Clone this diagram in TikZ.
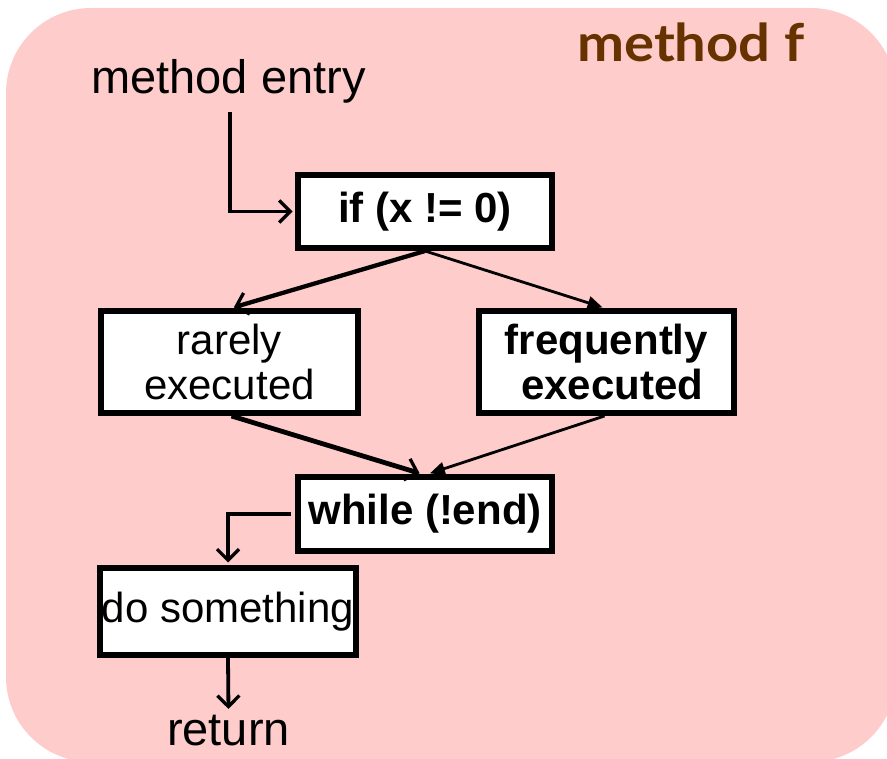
\documentclass[tikz,border=0pt]{standalone}
\usepackage{fontspec}
\setmainfont{Liberation Sans}
\newfontfamily\titlefont{Lato}
\usetikzlibrary{arrows.meta}
\definecolor{bgpink}{HTML}{FFCCCC}
\definecolor{titlebrown}{HTML}{663300}
\begin{document}
\begin{tikzpicture}[x=1pt,y=-1pt,
  blk/.style={draw=black,line width=6pt,fill=white,inner sep=0pt,align=center,
    font=\fontsize{42}{45}\selectfont},
  lbl/.style={inner sep=0pt,font=\fontsize{47}{50}\selectfont},
  openarr/.style={draw=black,line width=3.3pt,
    -{Straight Barb[length=11pt,width=22pt,line width=3.3pt]},shorten >=2.5pt},
  thickopen/.style={openarr,line width=4.3pt},
  filledarr/.style={draw=black,line width=2.8pt,
    -{Triangle[length=15pt,width=13pt]},shorten >=2pt}]
\useasboundingbox (0,0) rectangle (887,759);
\clip (0,0) rectangle (887,759);
\fill[bgpink,rounded corners=85pt] (6,8) rectangle (896,762);
\node[anchor=base west,inner sep=0pt,text=titlebrown,font=\titlefont\bfseries\fontsize{52}{54}\selectfont] (title) at (577,62) {\scalebox{1.08}[1]{method f}};
\node[lbl,anchor=base] (entry) at (228.5,94) {method entry};
\node[blk,minimum width=254pt,minimum height=73pt,font=\bfseries\fontsize{42}{45}\selectfont] (ifb) at (425,211.5) {if (x != 0)};
\node[blk,minimum width=257pt,minimum height=102pt] (rare) at (229.5,362) {rarely\\executed};
\node[blk,minimum width=255pt,minimum height=102pt,font=\bfseries\fontsize{42}{45}\selectfont] (freq) at (606.5,362) {frequently\\\ executed};
\node[blk,minimum width=254pt,minimum height=74pt,font=\bfseries\fontsize{42}{45}\selectfont] (wh) at (425,514) {while (!end)};
\node[blk,minimum width=256pt,minimum height=87pt] (dos) at (228,611.5) {do something};
\node[lbl,anchor=base] (ret) at (228.5,745) {return};
\draw[openarr] ([xshift=1.5pt,yshift=-8pt]entry.south) |- (ifb.west);
\draw[thickopen] (ifb.south) -- ([xshift=2pt]rare.north);
\draw[filledarr] (ifb.south) -- ([xshift=-2pt]freq.north);
\draw[thickopen,line width=4.8pt] ([xshift=2pt]rare.south) -- ([xshift=-3pt]wh.north);
\draw[filledarr] ([xshift=-2pt]freq.south) -- ([xshift=3pt]wh.north);
\draw[openarr] ([xshift=-4pt]wh.west) -| (dos.north);
\draw[openarr,line width=3.8pt] (dos.south) -- ([yshift=3pt]ret.north);
\end{tikzpicture}
\end{document}
